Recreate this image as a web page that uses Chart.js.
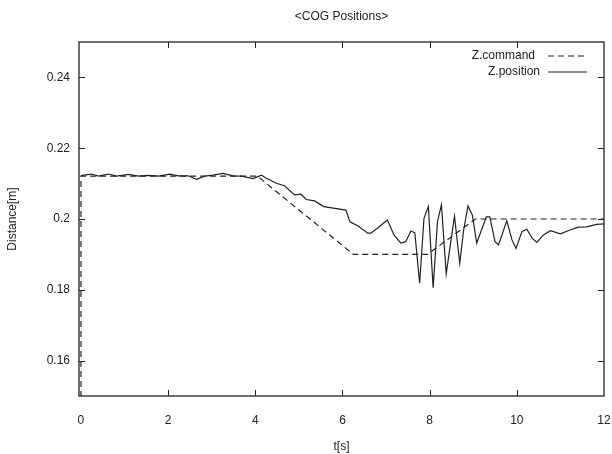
<!DOCTYPE html>
<html>
<head>
<meta charset="utf-8">
<script src="https://cdn.jsdelivr.net/npm/chart.js@4.4.0/dist/chart.umd.min.js"></script>
<style>
  html, body { margin: 0; padding: 0; background: #fff; }
  #wrap { width: 612px; height: 454px; }
</style>
</head>
<body>
<div id="wrap"><canvas id="chart" width="612" height="454"></canvas></div>
<script>
// Z.command (dashed)
const tCmd = [0, 0, 4.05, 6.25, 7.95, 9.05, 12];
const zCmd = [0, 0.2121, 0.2121, 0.19, 0.19, 0.2, 0.2];

// Z.position (solid)
const tPos = [0, 0.06, 0.25, 0.4, 0.63, 0.82, 1.09, 1.32, 1.55, 1.78, 2.04, 2.23, 2.46, 2.65, 2.84,
  3.03, 3.26, 3.49, 3.68, 3.95, 4.14, 4.25, 4.37, 4.48, 4.67, 4.9, 5.05, 5.17, 5.36, 5.57, 6.08,
  6.17, 6.35, 6.58, 6.65, 6.8, 7.03, 7.18, 7.34, 7.45, 7.57, 7.66, 7.77, 7.87, 7.97, 8.08, 8.18,
  8.27, 8.38, 8.48, 8.57, 8.69, 8.78, 8.88, 8.98, 9.08, 9.3, 9.38, 9.5, 9.58, 9.77, 9.89, 9.98,
  10.12, 10.23, 10.35, 10.46, 10.61, 10.77, 11.0, 11.22, 11.41, 11.6, 11.83, 12];
const zPos = [0.2122, 0.2124, 0.2127, 0.2121, 0.2127, 0.2121, 0.2126, 0.2121, 0.2123, 0.2121, 0.2127, 0.2122, 0.2122, 0.2112, 0.2121,
  0.2124, 0.2129, 0.2122, 0.2121, 0.2114, 0.2124, 0.2115, 0.2108, 0.2101, 0.2094, 0.2068, 0.207, 0.2055, 0.2051, 0.2035, 0.2025,
  0.1992, 0.1981, 0.196, 0.196, 0.1974, 0.1997, 0.1955, 0.1932, 0.1936, 0.1966, 0.1961, 0.1819, 0.2002, 0.2035, 0.1806, 0.1993,
  0.204, 0.1845, 0.1932, 0.2008, 0.1875, 0.1969, 0.2037, 0.2011, 0.1932, 0.2006, 0.2006, 0.1936, 0.1927, 0.1995, 0.1941, 0.1917,
  0.1965, 0.1971, 0.1946, 0.1934, 0.1955, 0.1967, 0.1958, 0.1969, 0.1977, 0.1978, 0.1985, 0.1986];

const yTicks = [0.16, 0.18, 0.2, 0.22, 0.24];
const xTicks = [0, 2, 4, 6, 8, 10, 12];

const FONT = "'Liberation Sans', Arial, sans-serif";
const INK = '#222';

// box round the plot, ticks pointing inwards on all four sides, title and key
const framePlugin = {
  id: 'frame',
  afterDatasetsDraw(chart) {
    const ctx = chart.ctx;
    const a = chart.chartArea;
    const x = chart.scales.x, y = chart.scales.y;
    ctx.save();
    ctx.strokeStyle = INK;
    ctx.lineWidth = 1.3;
    ctx.strokeRect(a.left, a.top, a.right - a.left, a.bottom - a.top);
    ctx.lineWidth = 1;
    ctx.beginPath();
    x.ticks.forEach(function (t) {
      const px = Math.round(x.getPixelForValue(t.value)) + 0.5;
      if (px < a.left + 4 || px > a.right - 4) return;
      ctx.moveTo(px, a.bottom); ctx.lineTo(px, a.bottom - 6);
      ctx.moveTo(px, a.top); ctx.lineTo(px, a.top + 6);
    });
    y.ticks.forEach(function (t) {
      const py = Math.round(y.getPixelForValue(t.value)) + 0.5;
      ctx.moveTo(a.left, py); ctx.lineTo(a.left + 6, py);
      ctx.moveTo(a.right, py); ctx.lineTo(a.right - 6, py);
    });
    ctx.stroke();

    // title
    ctx.fillStyle = INK;
    ctx.font = '12px ' + FONT;
    ctx.textAlign = 'center';
    ctx.textBaseline = 'middle';
    ctx.fillText('<COG Positions>', (a.left + a.right) / 2, 17);

    // key
    const keys = [
      { label: 'Z.command', dash: [6, 4], y: a.top + 14, tx: a.right - 69 },
      { label: 'Z.position', dash: [], y: a.top + 30, tx: a.right - 64 }
    ];
    ctx.textAlign = 'right';
    ctx.lineWidth = 1.2;
    keys.forEach(function (k) {
      ctx.fillText(k.label, k.tx, k.y);
      ctx.setLineDash(k.dash);
      ctx.beginPath();
      ctx.moveTo(a.right - 56, k.y);
      ctx.lineTo(a.right - 17, k.y);
      ctx.stroke();
    });
    ctx.restore();
  }
};

new Chart(document.getElementById('chart'), {
  type: 'line',
  data: {
    datasets: [{
      label: 'Z.command',
      data: tCmd.map(function (t, i) { return { x: t, y: zCmd[i] }; }),
      borderColor: INK,
      borderWidth: 1.2,
      borderDash: [6, 4],
      pointRadius: 0,
      tension: 0
    }, {
      label: 'Z.position',
      data: tPos.map(function (t, i) { return { x: t, y: zPos[i] }; }),
      borderColor: INK,
      borderWidth: 1.2,
      pointRadius: 0,
      tension: 0
    }]
  },
  options: {
    responsive: false,
    animation: false,
    layout: { padding: { top: 42, right: 8, bottom: 0, left: 0 } },
    plugins: { legend: { display: false }, title: { display: false }, tooltip: { enabled: false } },
    scales: {
      x: {
        type: 'linear',
        min: -0.045,
        max: 12,
        afterBuildTicks: function (s) { s.ticks = xTicks.map(function (v) { return { value: v }; }); },
        afterFit: function (s) { s.height = 58; s.paddingLeft = 0; s.paddingRight = 0; },
        grid: { display: false, drawTicks: false },
        border: { display: false },
        ticks: { color: INK, font: { family: FONT, size: 12 }, padding: 17, maxRotation: 0 },
        title: { display: true, text: 't[s]', color: INK, font: { family: FONT, size: 12 }, padding: { top: 0, bottom: 0 } }
      },
      y: {
        min: 0.15,
        max: 0.25,
        afterBuildTicks: function (s) { s.ticks = yTicks.map(function (v) { return { value: v }; }); },
        afterFit: function (s) { s.width = 79; s.paddingTop = 0; s.paddingBottom = 0; },
        grid: { display: false, drawTicks: false },
        border: { display: false },
        ticks: { color: INK, font: { family: FONT, size: 12 }, padding: 9, callback: function (v) { return String(v); } },
        title: { display: true, text: 'Distance[m]', color: INK, font: { family: FONT, size: 12 }, padding: { top: 5, bottom: 0 } }
      }
    }
  },
  plugins: [framePlugin]
});
</script>
</body>
</html>
